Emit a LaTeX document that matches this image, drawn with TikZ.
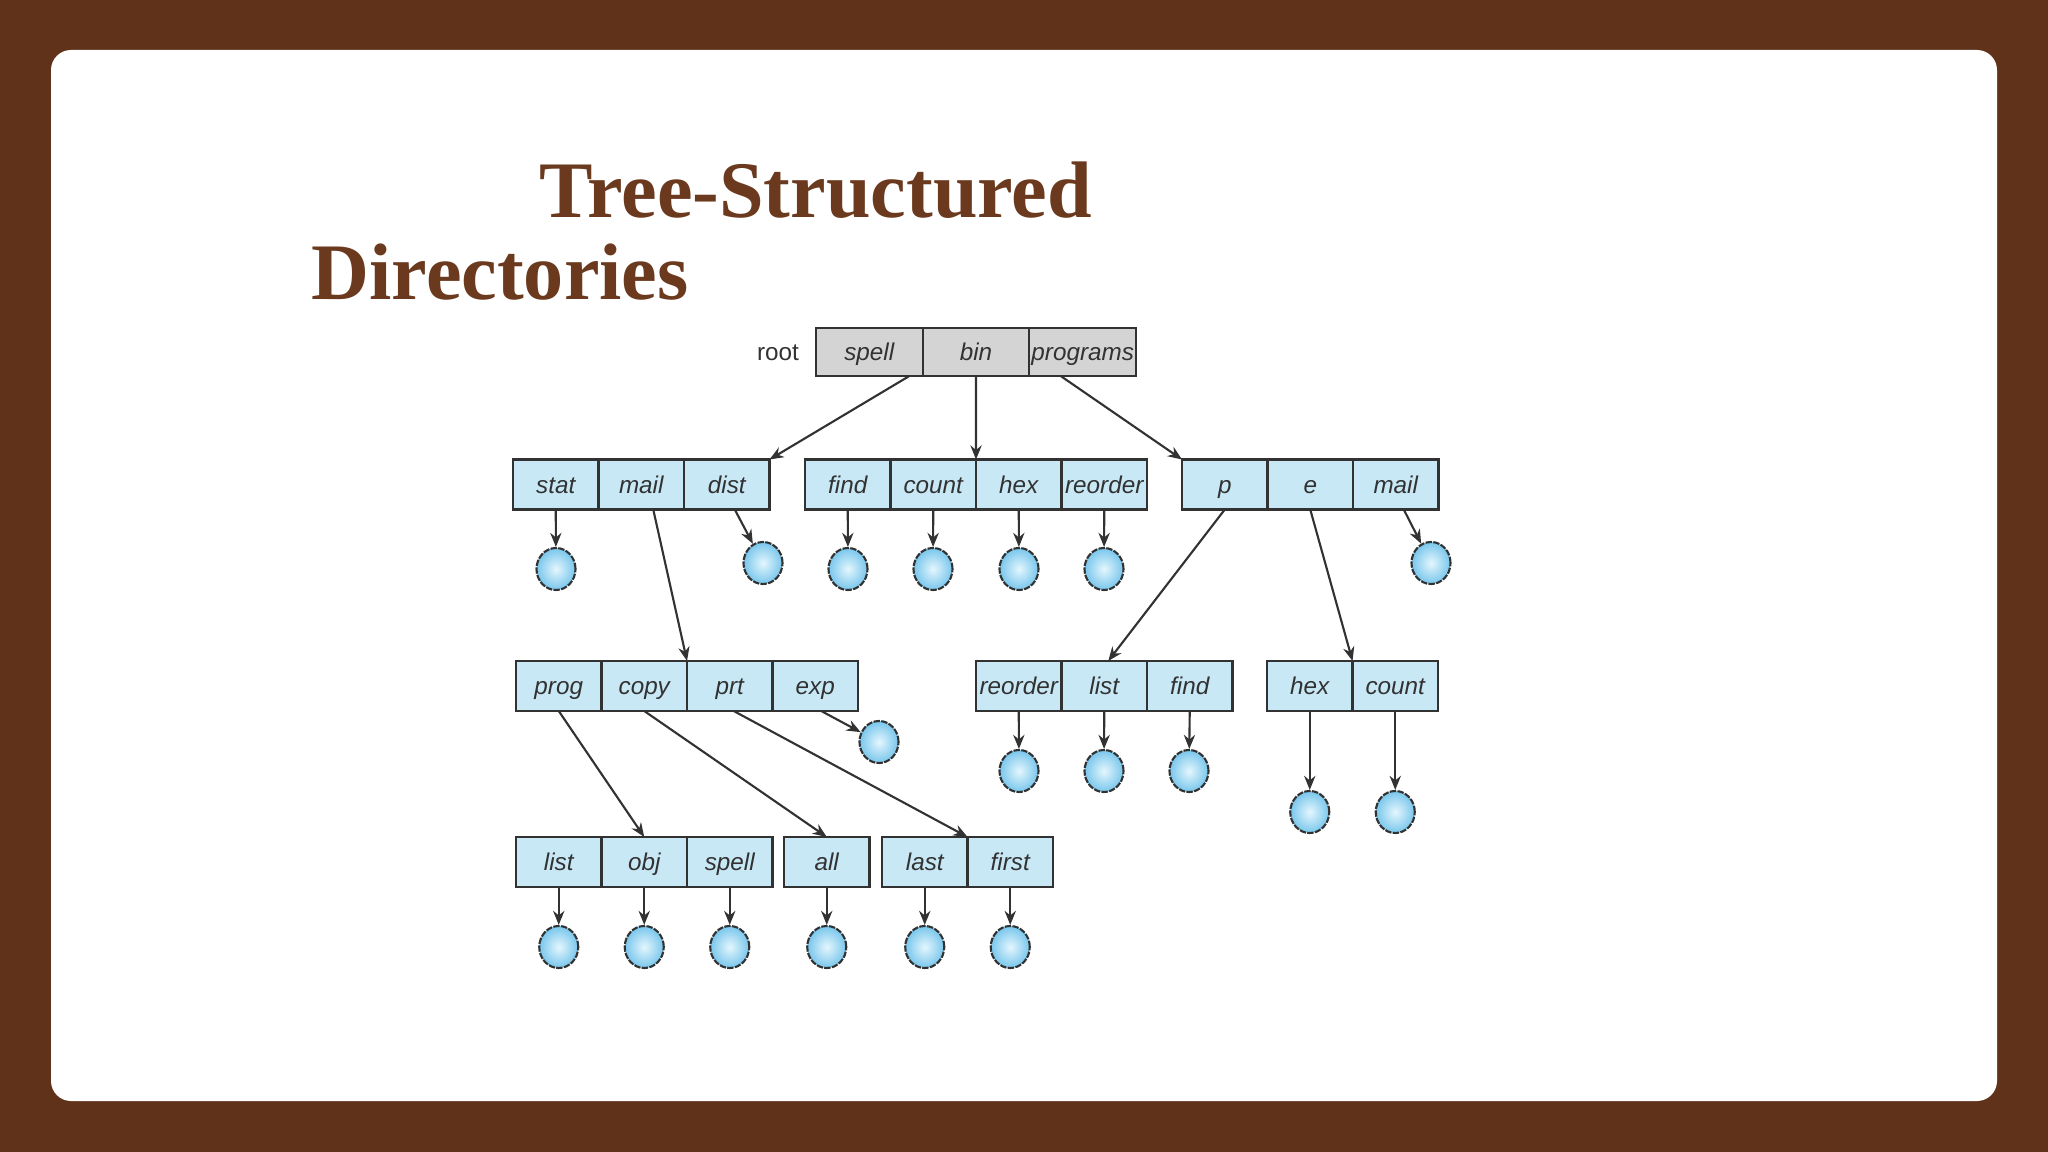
\documentclass[tikz,border=0pt]{standalone}
\usepackage{fontspec}
\setmainfont{Liberation Serif}
\setsansfont{Liberation Sans}
\usetikzlibrary{arrows.meta,shapes.geometric,calc}
\definecolor{bgbrown}{RGB}{96,50,26}
\definecolor{titlebrown}{RGB}{107,58,30}
\definecolor{cellblue}{RGB}{200,232,246}
\definecolor{rootgray}{RGB}{212,212,212}
\definecolor{linec}{RGB}{50,50,50}
\definecolor{ballout}{RGB}{120,198,236}
\definecolor{ballin}{RGB}{228,246,253}
\begin{document}
\begin{tikzpicture}[x=0.01cm,y=-0.01cm,
  cell/.style={draw=linec, fill=cellblue, line width=0.6pt, outer sep=0pt, minimum width=0.855cm, minimum height=0.5cm, inner sep=0pt, text height=5.5pt, text depth=0.5pt, font=\fontsize{6.9}{8}\selectfont\sffamily\itshape, text=linec},
  rcell/.style={cell, fill=rootgray, minimum width=1.067cm, minimum height=0.48cm},
  leaf/.style={ellipse, draw=linec, line width=0.6pt, dash pattern=on 1.8pt off 0.4pt, minimum width=0.39cm, minimum height=0.42cm, inner sep=0pt, inner color=ballin, outer color=ballout},
  arr/.style={draw=linec, line width=0.6pt, -{Stealth[length=4pt,width=3.2pt]}},
  ttl/.style={anchor=base west, inner sep=0pt, text=titlebrown, font=\fontsize{22.8}{27}\selectfont\bfseries}
]
\useasboundingbox (0,0) rectangle (2048,1152);
\fill[bgbrown] (0,0) rectangle (2048,1152);
\fill[white, rounded corners=0.2cm] (51,50) rectangle (1997,1101);

% title
\node[ttl] (title1) at (539,218) {Tree-Structured};
\node[ttl] (title2) at (311,300) {Directories};

% root
\node[font=\fontsize{6.9}{8}\selectfont\sffamily, text=linec, text height=5.5pt, text depth=0.5pt] (rootlbl) at (778,352) {root};
\node[rcell] (rspell) at (869.3,352) {spell};
\node[rcell] (rbin) at (976,352) {bin};
\node[rcell] (rprog) at (1082.7,352) {programs};

% level 2
\node[cell] (astat) at (555.75,484.5) {stat};
\node[cell] (amail) at (641.25,484.5) {mail};
\node[cell] (adist) at (726.75,484.5) {dist};
\node[cell] (bfind) at (847.75,484.5) {find};
\node[cell] (bcount) at (933.25,484.5) {count};
\node[cell] (bhex) at (1018.75,484.5) {hex};
\node[cell] (breorder) at (1104.25,484.5) {reorder};
\node[cell] (cp) at (1224.75,484.5) {p};
\node[cell] (ce) at (1310.25,484.5) {e};
\node[cell] (cmail) at (1395.75,484.5) {mail};

% level 3
\node[cell] (dprog) at (558.75,686) {prog};
\node[cell] (dcopy) at (644.25,686) {copy};
\node[cell] (dprt) at (729.75,686) {prt};
\node[cell] (dexp) at (815.25,686) {exp};
\node[cell] (ereorder) at (1018.75,686) {reorder};
\node[cell] (elist) at (1104.25,686) {list};
\node[cell] (efind) at (1189.75,686) {find};
\node[cell] (fhex) at (1309.75,686) {hex};
\node[cell] (fcount) at (1395.25,686) {count};

% level 4
\node[cell] (glist) at (558.75,862) {list};
\node[cell] (gobj) at (644.25,862) {obj};
\node[cell] (gspell) at (729.75,862) {spell};
\node[cell] (hall) at (826.75,862) {all};
\node[cell] (ilast) at (924.75,862) {last};
\node[cell] (ifirst) at (1010.25,862) {first};

% leaves
\node[leaf] (lstat) at (556,569) {};
\node[leaf] (ldist) at (763,563) {};
\node[leaf] (lfind) at (848,569) {};
\node[leaf] (lcount) at (933,569) {};
\node[leaf] (lhex) at (1019,569) {};
\node[leaf] (lreorder) at (1104,569) {};
\node[leaf] (lcmail) at (1431,563) {};
\node[leaf] (lexp) at (879,742) {};
\node[leaf] (lereorder) at (1019,771) {};
\node[leaf] (lelist) at (1104,771) {};
\node[leaf] (lefind) at (1189,771) {};
\node[leaf] (lfhex) at (1309.75,812) {};
\node[leaf] (lfcount) at (1395.25,812) {};
\node[leaf] (lglist) at (558.75,947) {};
\node[leaf] (lgobj) at (644.25,947) {};
\node[leaf] (lgspell) at (729.75,947) {};
\node[leaf] (lhall) at (826.75,947) {};
\node[leaf] (lilast) at (924.75,947) {};
\node[leaf] (lifirst) at (1010.25,947) {};

% root arrows
\draw[arr] ([xshift=0.4cm]rspell.south) -- (adist.north east);
\draw[arr] (rbin.south) -- (bcount.north east);
\draw[arr] ([xshift=-0.22cm]rprog.south) -- (cp.north west);

% level 2 arrows
\draw[arr] (astat.south) -- (lstat);
\draw[arr] ([xshift=0.12cm]amail.south) -- (dcopy.north east);
\draw[arr] ([xshift=0.08cm]adist.south) -- (ldist);
\draw[arr] (bfind.south) -- (lfind);
\draw[arr] (bcount.south) -- (lcount);
\draw[arr] (bhex.south) -- (lhex);
\draw[arr] (breorder.south) -- (lreorder);
\draw[arr] (cp.south) -- ([xshift=0.04cm]elist.north);
\draw[arr] (ce.south) -- (fhex.north east);
\draw[arr] ([xshift=0.08cm]cmail.south) -- (lcmail);

% level 3 arrows
\draw[arr] (dprog.south) -- (gobj.north);
\draw[arr] (dcopy.south) -- (hall.north);
\draw[arr] ([xshift=0.04cm]dprt.south) -- (ilast.north east);
\draw[arr] ([xshift=0.06cm]dexp.south) -- (lexp);
\draw[arr] (ereorder.south) -- (lereorder);
\draw[arr] (elist.south) -- (lelist);
\draw[arr] (efind.south) -- (lefind);
\draw[arr] (fhex.south) -- (lfhex);
\draw[arr] (fcount.south) -- (lfcount);

% level 4 arrows
\draw[arr] (glist.south) -- (lglist);
\draw[arr] (gobj.south) -- (lgobj);
\draw[arr] (gspell.south) -- (lgspell);
\draw[arr] (hall.south) -- (lhall);
\draw[arr] (ilast.south) -- (lilast);
\draw[arr] (ifirst.south) -- (lifirst);
\end{tikzpicture}
\end{document}
